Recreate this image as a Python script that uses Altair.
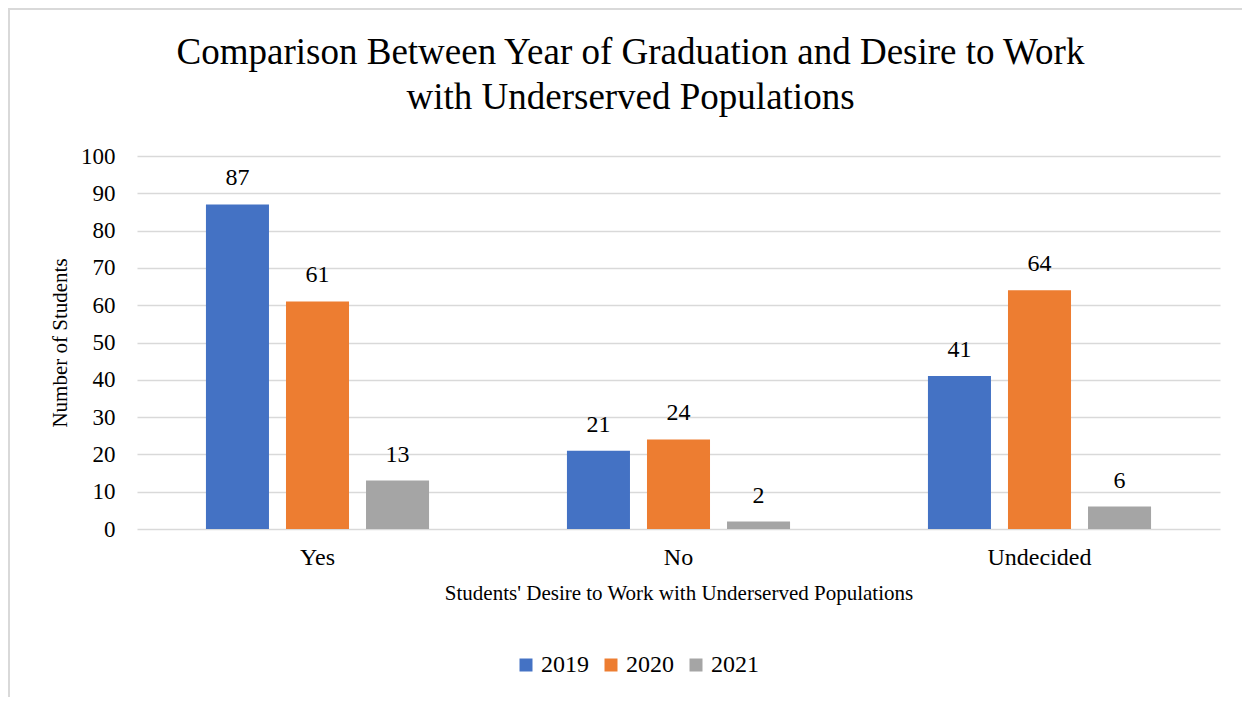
import altair as alt
import pandas as pd

categories = ["Yes", "No", "Undecided"]
years = ["2019", "2020", "2021"]
values_2019 = [87, 21, 41]
values_2020 = [61, 24, 64]
values_2021 = [13, 2, 6]
colors = ["#4472C4", "#ED7D31", "#A5A5A5"]
title_lines = ["Comparison Between Year of Graduation and Desire to Work",
               "with Underserved Populations"]

rows = []
for yr, vals in zip(years, [values_2019, values_2020, values_2021]):
    for c, v in zip(categories, vals):
        rows.append({"Response": c, "Year": yr, "Students": v})
df = pd.DataFrame(rows)

FONT = "Liberation Serif"
W, H = 1083, 373

x_axis = alt.Axis(title="Students' Desire to Work with Underserved Populations",
                  labelAngle=0, labelFontSize=24, labelFont=FONT, labelColor="#000000",
                  labelPadding=16, ticks=False, domain=False,
                  titleFont=FONT, titleFontSize=21, titleFontWeight="normal",
                  titleColor="#000000", titlePadding=13)
y_axis = alt.Axis(title="Number of Students", values=list(range(0, 101, 10)),
                  labelOverlap=False,
                  labelFontSize=23, labelFont=FONT, labelColor="#000000",
                  labelPadding=22, ticks=False, domain=False,
                  gridColor="#d9d9d9", gridWidth=1.5,
                  titleFont=FONT, titleFontSize=21, titleFontWeight="normal",
                  titleColor="#000000", titlePadding=10)
x_scale = alt.Scale(paddingInner=0.382, paddingOuter=0.191)
xo_scale = alt.Scale(paddingInner=0.2125, paddingOuter=0)
y_scale = alt.Scale(domain=[0, 100], nice=False)

color = alt.Color("Year:N", sort=years, scale=alt.Scale(domain=years, range=colors),
                  legend=alt.Legend(title=None, orient="none", direction="horizontal",
                                    legendX=377, legendY=497, symbolType="square",
                                    symbolSize=169, symbolStrokeWidth=0,
                                    labelFont=FONT, labelFontSize=24, labelColor="#000000",
                                    columnPadding=10, labelOffset=3))

base = alt.Chart(df)
bars = base.mark_bar(opacity=1).encode(
    x=alt.X("Response:N", sort=categories, scale=x_scale, axis=x_axis),
    xOffset=alt.XOffset("Year:N", sort=years, scale=xo_scale),
    y=alt.Y("Students:Q", scale=y_scale, axis=y_axis),
    color=color)
labels = base.mark_text(dy=-14, baseline="bottom", font=FONT, fontSize=24, color="#000000").encode(
    x=alt.X("Response:N", sort=categories, scale=x_scale, axis=x_axis),
    xOffset=alt.XOffset("Year:N", sort=years, scale=xo_scale),
    y=alt.Y("Students:Q", scale=y_scale, axis=y_axis),
    text="Students:Q")

tdf = pd.DataFrame({"line": title_lines})
title1 = alt.Chart(tdf.iloc[[0]]).mark_text(font=FONT, fontSize=37, color="#000000",
                                            baseline="middle", align="center").encode(
    text="line:N", x=alt.value(W / 2 - 48), y=alt.value(-103))
title2 = alt.Chart(tdf.iloc[[1]]).mark_text(font=FONT, fontSize=37, color="#000000",
                                            baseline="middle", align="center").encode(
    text="line:N", x=alt.value(W / 2 - 48), y=alt.value(-58))

border_top = alt.Chart(pd.DataFrame({"a": [0]})).mark_rule(color="#d9d9d9", strokeWidth=2).encode(
    x=alt.value(-129), x2=alt.value(W + 30), y=alt.value(-147))
border_left = alt.Chart(pd.DataFrame({"a": [0]})).mark_rule(color="#d9d9d9", strokeWidth=2).encode(
    x=alt.value(-128), y=alt.value(-148), y2=alt.value(H + 175))

chart = alt.layer(bars, labels, title1, title2, border_top, border_left).properties(
    width=W, height=H,
    background="#ffffff",
    autosize=alt.AutoSizeParams(type="none"),
    padding={"left": 129, "top": 148, "right": 22, "bottom": 168},
).configure_view(stroke=None)

chart.save("out.html", embed_options={"renderer": "svg", "actions": False})
